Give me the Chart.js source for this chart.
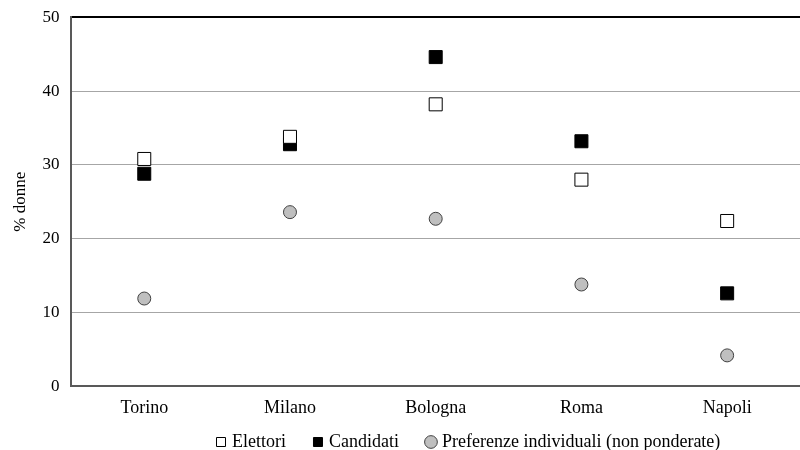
<!DOCTYPE html>
<html>
<head>
<meta charset="utf-8">
<script src="https://cdn.jsdelivr.net/npm/chart.js@4"></script>
<style>
  html, body { margin: 0; padding: 0; background: #fff; overflow: hidden; }
  .wrap { position: relative; left: -4px; top: -5px; width: 804px; height: 455px; }
</style>
</head>
<body>
<div class="wrap"><canvas id="myChart"></canvas></div>
<script>
const cities = ["Torino", "Milano", "Bologna", "Roma", "Napoli"];
const elettori = [30.8, 33.8, 38.2, 28.0, 22.4];
const candidati = [28.8, 32.8, 44.6, 33.2, 12.6];
const preferenze = [11.9, 23.6, 22.7, 13.8, 4.2];
const yTicks = [0, 10, 20, 30, 40, 50];

const serif = "'Liberation Serif', 'Times New Roman', serif";

// legend in the original starts right of centre
const shiftLegend = {
  id: "shiftLegend",
  beforeDraw(chart) {
    const lg = chart.legend;
    if (!lg) return;
    lg.left = 220;
  }
};

var data = {
  labels: cities,
  datasets: [
    {
      label: "Elettori",
      data: elettori,
      showLine: false,
      pointStyle: "rect",
      pointRadius: 9.2,
      pointHoverRadius: 9.2,
      backgroundColor: "#ffffff",
      borderColor: "#000000",
      borderWidth: 1
    },
    {
      label: "Candidati",
      data: candidati,
      showLine: false,
      pointStyle: "rect",
      pointRadius: 9.2,
      pointHoverRadius: 9.2,
      backgroundColor: "#000000",
      borderColor: "#000000",
      borderWidth: 1
    },
    {
      label: "Preferenze individuali (non ponderate)",
      data: preferenze,
      showLine: false,
      pointStyle: "circle",
      pointRadius: 6.5,
      pointHoverRadius: 6.5,
      backgroundColor: "#bfbfbf",
      borderColor: "#404040",
      borderWidth: 1
    }
  ]
};

var option = {
  responsive: true,
  maintainAspectRatio: false,
  animation: false,
  layout: { autoPadding: false, padding: { left: 12, right: 0, top: -4, bottom: -11 } },
  plugins: {
    tooltip: { enabled: false },
    legend: {
      position: "bottom",
      align: "start",
      labels: {
        usePointStyle: true,
        boxWidth: 4,
        boxHeight: 9,
        padding: 3,
        color: "#000",
        font: { family: serif, size: 18 },
        generateLabels: (chart) => {
          const items = Chart.defaults.plugins.legend.labels.generateLabels(chart);
          items.forEach((it, i) => { if (i < items.length - 1) it.text += "      "; });
          return items;
        }
      }
    }
  },
  scales: {
    x: {
      offset: true,
      grid: { display: false, drawTicks: false },
      border: { color: "#595959", width: 2 },
      ticks: { color: "#000", font: { family: serif, size: 18 }, padding: 11 }
    },
    y: {
      min: 0,
      max: 50,
      afterBuildTicks: (axis) => { axis.ticks = yTicks.map(v => ({ value: v })); },
      grid: {
        drawTicks: false,
        color: (ctx) => ctx.tick && ctx.tick.value === 50 ? "#000000" : "#a6a6a6",
        lineWidth: (ctx) => ctx.tick && ctx.tick.value === 50 ? 2 : 1
      },
      border: { color: "#595959", width: 2 },
      ticks: { color: "#000", font: { family: serif, size: 17 }, padding: 12 },
      title: {
        display: true,
        text: "% donne",
        color: "#000",
        font: { family: serif, size: 17 },
        padding: { top: 2, bottom: 0 }
      }
    }
  }
};

new Chart(document.getElementById("myChart"), {
  type: "line",
  data: data,
  options: option,
  plugins: [shiftLegend]
});
</script>
</body>
</html>
